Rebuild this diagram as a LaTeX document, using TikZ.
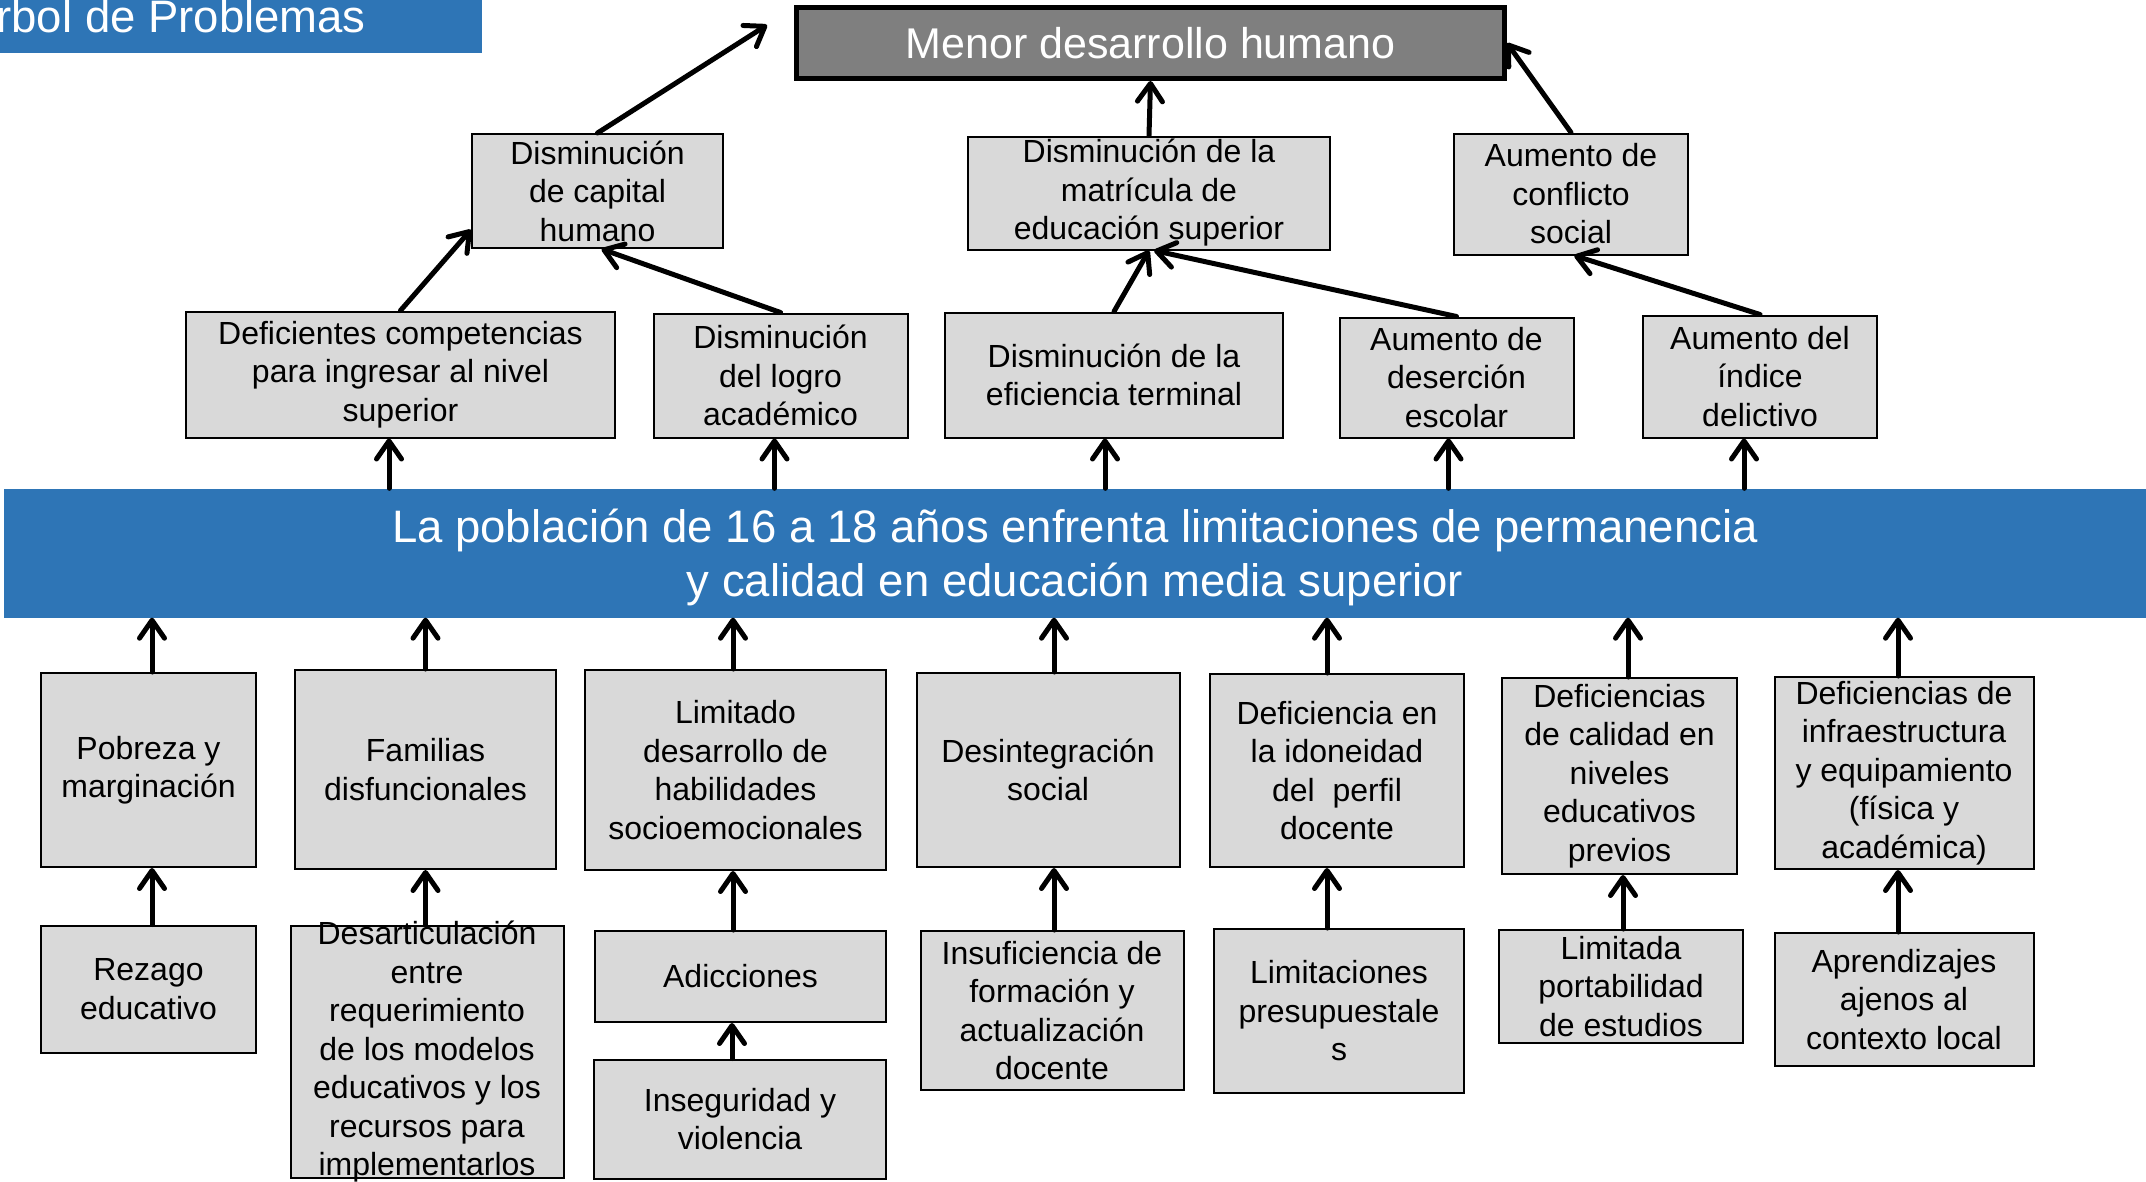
\documentclass[tikz,border=0pt]{standalone}
\usepackage{fontspec}
\setmainfont{Liberation Sans}
\usetikzlibrary{arrows.meta}
\definecolor{BandBlue}{HTML}{2E75B6}
\definecolor{BoxGray}{HTML}{D9D9D9}
\definecolor{TopGray}{HTML}{7F7F7F}

\begin{document}
\begin{tikzpicture}[x=1pt, y=-1pt,
  bx/.style={draw=black, line width=2pt, fill=BoxGray, align=center, inner sep=1pt,
    font=\fontsize{32}{38.5}\selectfont},
  arr/.style={line width=5pt, line cap=round, -{Straight Barb[length=18pt, width=25pt, round]}},
  band/.style={fill=BandBlue, inner sep=0pt},
  bandtxt/.style={text=white, align=center, inner sep=0pt, font=\fontsize{45.5}{54}\selectfont},
]
  \useasboundingbox (0,0) rectangle (2146,1181);

  % Title
  \node[band, minimum width=482pt, minimum height=53pt, anchor=north west] (ttlbox) at (0,0) {};
  \node[text=white, inner sep=0pt, anchor=base west, font=\fontsize{45.5}{54}\selectfont] (ttl) at (-34,32) {Árbol de Problemas};

  % Effects
  \node[draw=black, line width=5pt, fill=TopGray, text=white, inner sep=0pt,
    minimum width=708pt, minimum height=71pt, font=\fontsize{43}{50}\selectfont] (menor) at (1150.5,43) {Menor desarrollo humano};

  \node[bx, minimum width=251pt, minimum height=114pt] (cap) at (597.5,191) {Disminución\\de capital\\humano};
  \node[bx, minimum width=362pt, minimum height=113pt] (mat) at (1149,193) {Disminución de la\\matrícula de\\educación superior};
  \node[bx, minimum width=234pt, minimum height=121pt] (conf) at (1571,194) {Aumento de\\conflicto\\social};

  \node[bx, minimum width=429pt, minimum height=126pt] (comp) at (400.5,374.5) {Deficientes competencias\\para ingresar al nivel\\superior};
  \node[bx, minimum width=254pt, minimum height=124pt] (logro) at (780.5,375.5) {Disminución\\del logro\\académico};
  \node[bx, minimum width=338pt, minimum height=125pt] (efic) at (1114,375) {Disminución de la\\eficiencia terminal};
  \node[bx, minimum width=234pt, minimum height=120pt] (deser) at (1456.5,377.5) {Aumento de\\deserción\\escolar};
  \node[bx, minimum width=234pt, minimum height=122pt] (delic) at (1760,376.5) {Aumento del\\índice\\delictivo};

  % Central problem
  \node[band, minimum width=2142pt, minimum height=129pt] (prob) at (1075,553) {};
  \node[bandtxt] (probtxt) at (1075,557) {La población de 16 a 18 años enfrenta limitaciones de permanencia\\y calidad en educación media superior};

  % Causes
  \node[bx, minimum width=215pt, minimum height=194pt] (pob) at (148.5,770) {Pobreza y\\marginación};
  \node[bx, minimum width=261pt, minimum height=199pt] (fam) at (425.5,769.5) {Familias\\disfuncionales};
  \node[bx, minimum width=301pt, minimum height=200pt] (lim) at (735.5,770) {Limitado\\desarrollo de\\habilidades\\socioemocionales};
  \node[bx, minimum width=263pt, minimum height=194pt] (desi) at (1048,770) {Desintegración\\social};
  \node[bx, minimum width=254pt, minimum height=193pt] (idon) at (1337,770.5) {Deficiencia en\\la idoneidad\\del~~perfil\\docente};
  \node[bx, minimum width=235pt, minimum height=196pt, inner sep=0pt] (cal) at (1619.5,776) {Deficiencias\\de calidad en\\niveles\\educativos\\previos};
  \node[bx, minimum width=259pt, minimum height=192pt, inner sep=0pt] (infr) at (1904,773) {Deficiencias de\\infraestructura\\y equipamiento\\(física y\\académica)};

  \node[bx, minimum width=215pt, minimum height=127pt] (rez) at (148.5,989) {Rezago\\educativo};
  \node[bx, minimum width=273pt, minimum height=252pt, inner ysep=-6pt] (desa) at (427,1052) {Desarticulación\\entre\\requerimiento\\de los modelos\\educativos y los\\recursos para\\implementarlos};
  \node[bx, minimum width=291pt, minimum height=91pt] (adic) at (740.5,976.5) {Adicciones};
  \node[bx, minimum width=292pt, minimum height=119pt] (inseg) at (740,1119) {Inseguridad y\\violencia};
  \node[bx, minimum width=263pt, minimum height=159pt] (insu) at (1052,1010.5) {Insuficiencia de\\formación y\\actualización\\docente};
  \node[bx, minimum width=250pt, minimum height=164pt] (pres) at (1339,1011) {Limitaciones\\presupuestale\\s};
  \node[bx, minimum width=244pt, minimum height=113pt] (port) at (1621,986.5) {Limitada\\portabilidad\\de estudios};
  \node[bx, minimum width=259pt, minimum height=133pt] (apre) at (1904,999.5) {Aprendizajes\\ajenos al\\contexto local};

  % Arrows, upper tree
  \coordinate (capend) at (767,25);
  \draw[arr] (cap.north) -- (capend);
  \draw[arr] (mat.north) -- (menor.south);
  \draw[arr] (conf.north) -- (menor.east);
  \draw[arr] (comp.north) -- (cap.197);
  \draw[arr] (logro.north) -- (cap.274);
  \draw[arr] (efic.north) -- (mat.south);
  \draw[arr] (deser.north) -- (mat.275);
  \draw[arr] (delic.north) -- (conf.273);

  \foreach \up/\dx in {comp/-11.5, logro/-6, efic/-9, deser/-8, delic/-16}{
    \coordinate (t) at ([xshift=\dx pt]\up.south);
    \draw[arr] (t |- prob.north) -- (t);
  }

  % Arrows, lower tree
  \foreach \up/\dx in {pob/3.5, fam/0, lim/-2.5, desi/6, idon/-10, cal/8.5, infr/-6}{
    \coordinate (t) at ([xshift=\dx pt]\up.north);
    \draw[arr] (t) -- (t |- prob.south);
  }
  \foreach \lo/\up/\dx in {rez/pob/3.5, desa/fam/0, adic/lim/-2.5, insu/desi/6, pres/idon/-10, port/cal/3.5, apre/infr/-6}{
    \coordinate (t) at ([xshift=\dx pt]\up.south);
    \draw[arr] (t |- \lo.north) -- (t);
  }
  \coordinate (t) at ([xshift=-8pt]inseg.north);
  \draw[arr] (t) -- (t |- adic.south);
\end{tikzpicture}
\end{document}
